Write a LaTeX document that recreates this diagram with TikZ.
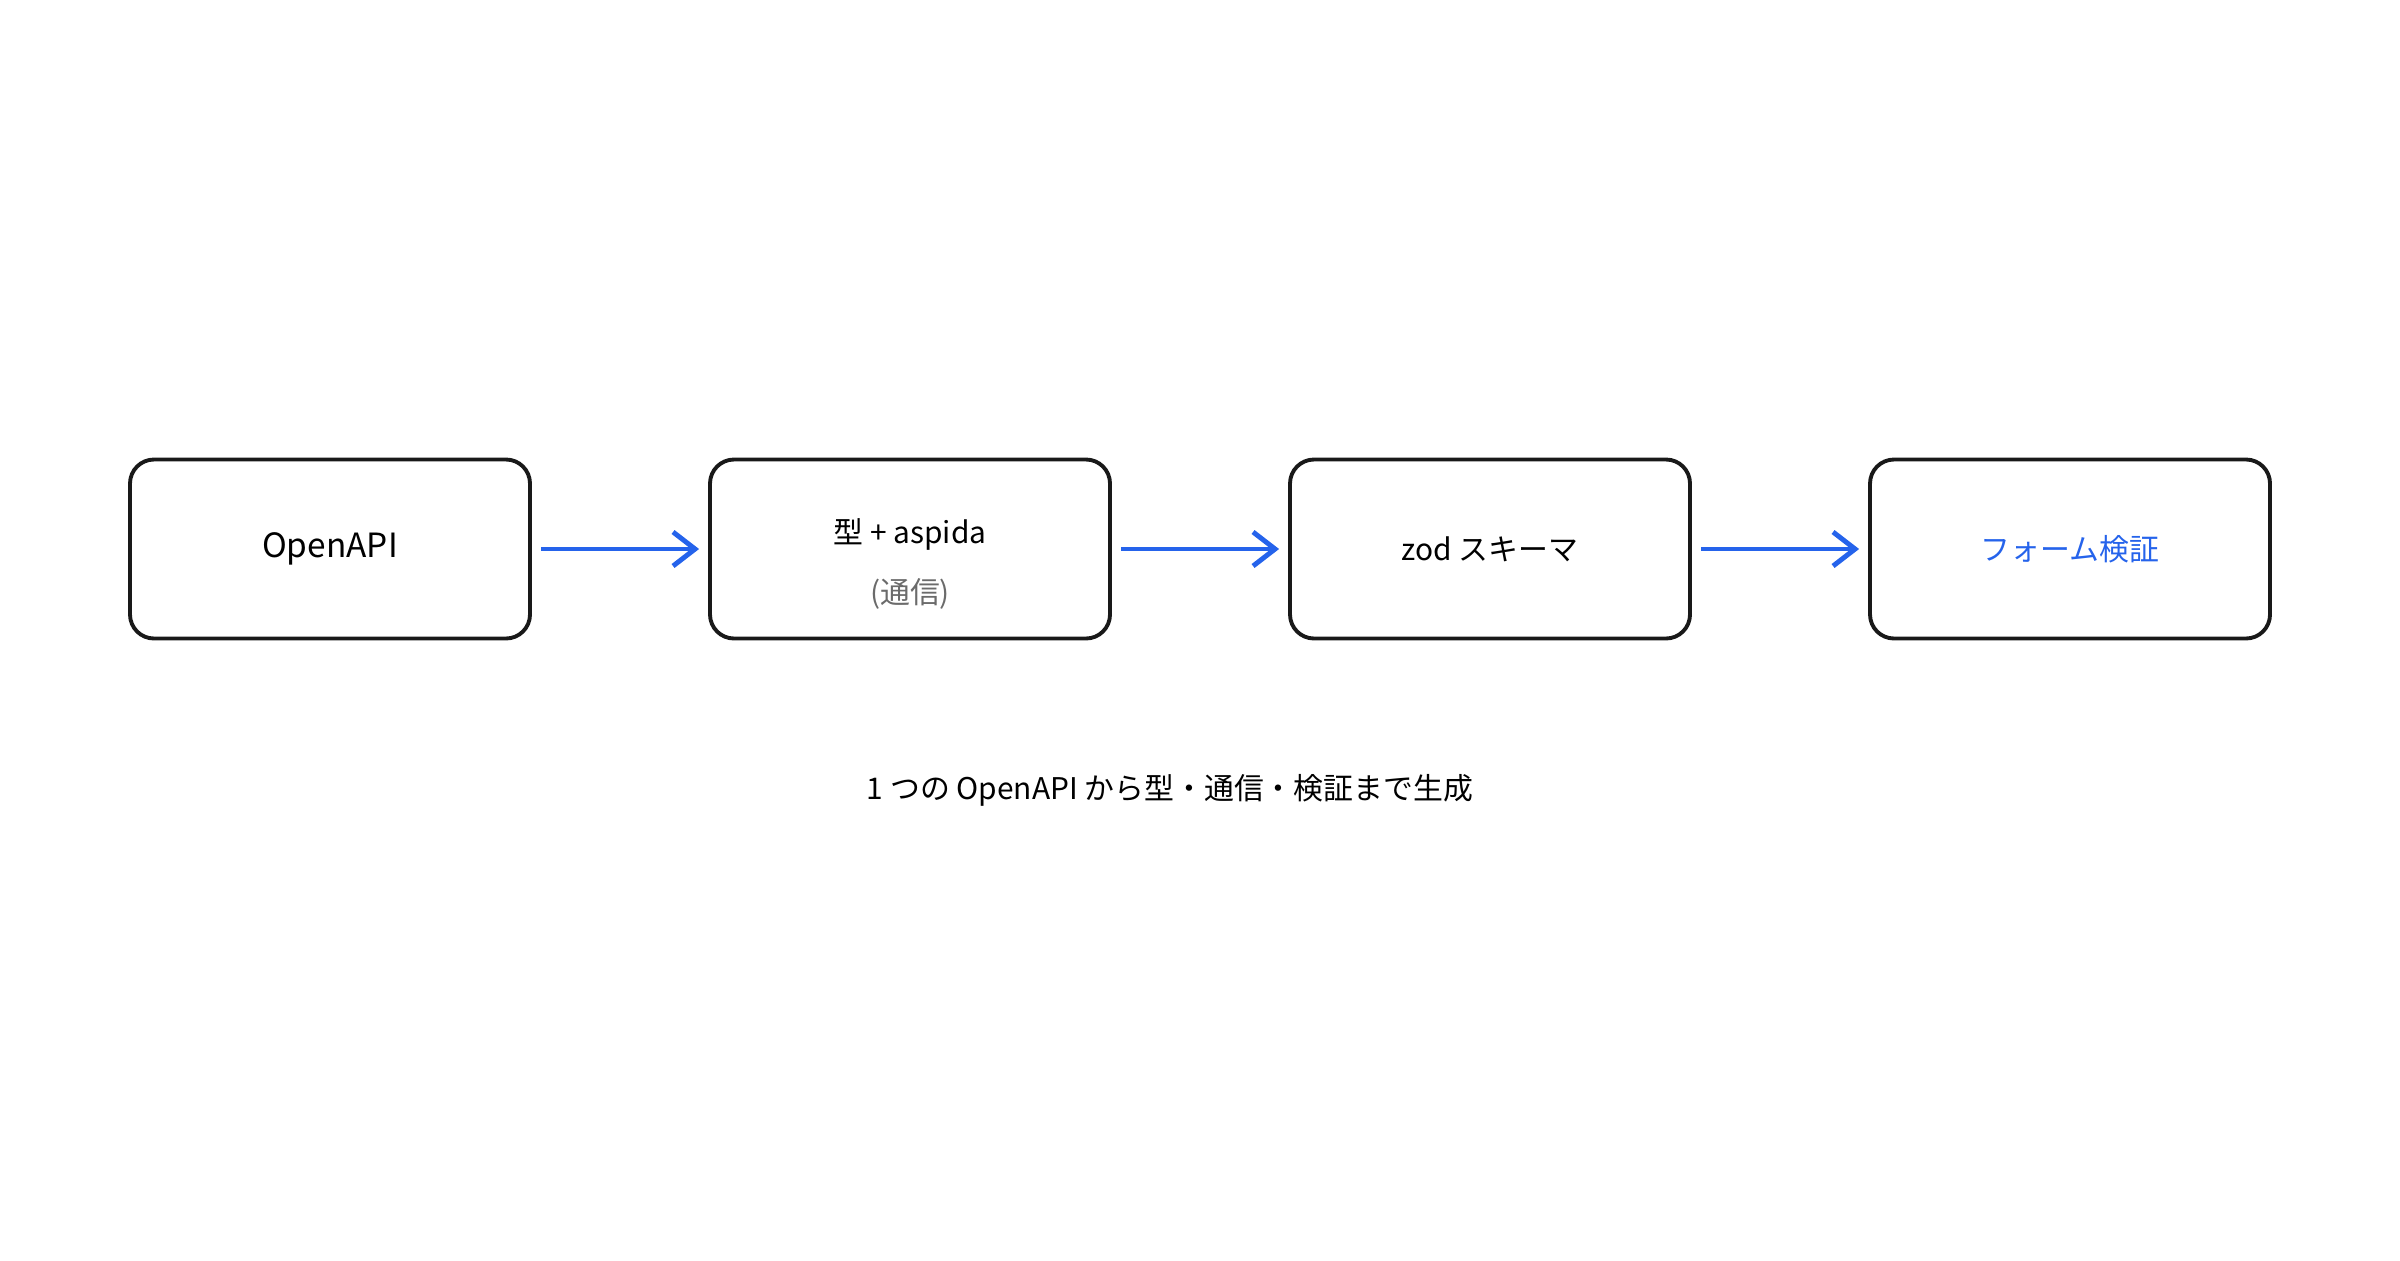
\documentclass[tikz,border=0pt]{standalone}
\usepackage{fontspec}
\setmainfont{Noto Sans CJK JP}
\usetikzlibrary{arrows.meta}
\definecolor{myblue}{HTML}{2563EB}
\definecolor{mygray}{HTML}{6B6B6B}
\begin{document}
\begin{tikzpicture}[
  box/.style={draw=black!90, line width=1.1pt, rounded corners=0.24cm, minimum width=4cm, minimum height=1.79cm, inner sep=0pt, align=center},
  arr/.style={draw=myblue, line width=1.4pt, -{Straight Barb[length=0.22cm,width=0.34cm,line width=1.4pt]}},
  lbl/.style={font=\fontsize{9.5pt}{11pt}\selectfont}
]
\useasboundingbox (0,0) rectangle (24,12.6);
\node[box, lbl] (a) at (3.3,7.11) {OpenAPI};
\node[box] (b) at (9.1,7.11) {};
\node[font=\fontsize{8.5pt}{10pt}\selectfont] (b1) at (9.1,7.26) {型 + aspida};
\node[font=\fontsize{8.5pt}{10pt}\selectfont, text=mygray] (b2) at (9.1,6.66) {(通信)};
\node[box, font=\fontsize{8.5pt}{10pt}\selectfont] (c) at (14.9,7.11) {zod スキーマ};
\node[box, font=\fontsize{8.5pt}{10pt}\selectfont, text=myblue] (d) at (20.7,7.11) {フォーム検証};
\draw[arr] ([xshift=0.09cm]a.east) -- ([xshift=-0.09cm]b.west);
\draw[arr] ([xshift=0.09cm]b.east) -- ([xshift=-0.09cm]c.west);
\draw[arr] ([xshift=0.09cm]c.east) -- ([xshift=-0.09cm]d.west);
\node[font=\fontsize{8.5pt}{10pt}\selectfont] (cap) at (11.7,4.7) {1 つの OpenAPI から型・通信・検証まで生成};
\end{tikzpicture}
\end{document}
